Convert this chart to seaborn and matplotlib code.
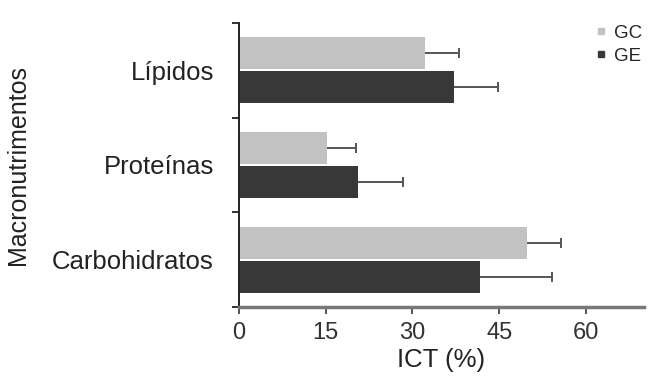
import pandas as pd
import seaborn as sns
import matplotlib.pyplot as plt
from matplotlib.lines import Line2D

# data
categories = ['Lípidos', 'Proteínas', 'Carbohidratos']
groups = ['GC', 'GE']
gc_values = [32.1, 15.2, 49.8]
ge_values = [37.2, 20.5, 41.7]
gc_errors = [6.0, 5.0, 5.9]
ge_errors = [7.6, 7.8, 12.4]
x_ticks = [0, 15, 30, 45, 60]

colors = {'GC': '#c2c2c2', 'GE': '#383838'}

df = pd.DataFrame({
    'Macronutrimentos': categories * 2,
    'ICT': gc_values + ge_values,
    'Grupo': ['GC'] * 3 + ['GE'] * 3,
})
errors = {'GC': gc_errors, 'GE': ge_errors}

sns.set_style('white')
plt.rcParams['font.family'] = ['Liberation Sans', 'DejaVu Sans']

fig = plt.figure(figsize=(6.51, 3.89), dpi=100)
ax = fig.add_axes([0.367, 0.211, 0.622, 0.730])

sns.barplot(data=df, y='Macronutrimentos', x='ICT', hue='Grupo',
            order=categories, hue_order=groups, palette=colors,
            orient='h', width=0.72, gap=0.06, errorbar=None,
            legend=False, ax=ax, linewidth=0)

# one-sided error bars, taken from the drawn bars
for container, grp in zip(ax.containers, groups):
    for patch, err in zip(container.patches, errors[grp]):
        yc = patch.get_y() + patch.get_height() / 2
        xv = patch.get_x() + patch.get_width()
        _, caps, _ = ax.errorbar(xv, yc, xerr=[[0], [err]], fmt='none',
                                 ecolor='#555555', elinewidth=1.4,
                                 capsize=3.5, capthick=1.4)
        caps[0].set_visible(False)  # no cap at the bar end

ax.set_xlim(0, 70)
ax.set_ylim(2.5, -0.5)
ax.set_xticks(x_ticks)
ax.set_xticklabels([str(t) for t in x_ticks])
ax.set_yticks(range(len(categories)))
ax.set_yticklabels(categories)
ax.set_yticks([-0.5, 0.5, 1.5, 2.5], minor=True)

ax.tick_params(axis='y', which='major', length=0, pad=18,
               labelsize=18.5, labelcolor='#222222')
ax.tick_params(axis='y', which='minor', left=True, length=5,
               width=1.3, color='#222222', direction='out')
ax.tick_params(axis='x', bottom=True, length=5, width=1.3,
               color='#444444', direction='out', pad=6,
               labelsize=17, labelcolor='#333333')

ax.set_xlabel('ICT (%)', fontsize=18.5, color='#222222', labelpad=3)
ax.set_ylabel('Macronutrimentos', fontsize=18, color='#222222', labelpad=16)

sns.despine(ax=ax)
ax.spines['left'].set_color('#222222')
ax.spines['left'].set_linewidth(1.4)
ax.spines['bottom'].set_color('#777777')
ax.spines['bottom'].set_linewidth(2.5)

handles = [Line2D([], [], marker='s', linestyle='none', markersize=5,
                  color=colors[g]) for g in groups]
ax.legend(handles, groups, loc='upper left', bbox_to_anchor=(0.862, 1.02),
          frameon=False, fontsize=13.5, handlelength=0.6, handletextpad=0.4,
          labelspacing=0.3, borderaxespad=0)

fig.savefig('out.png', dpi=100)
